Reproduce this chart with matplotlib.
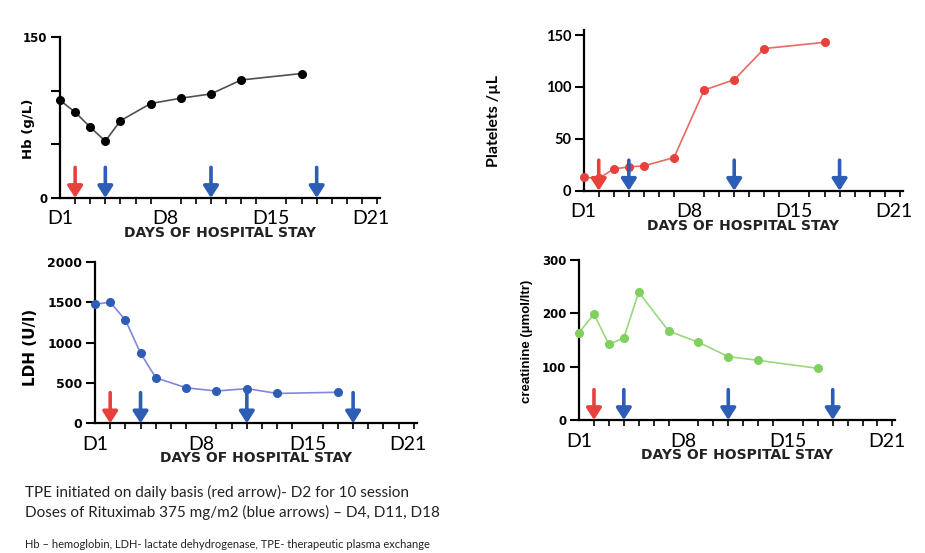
import matplotlib.pyplot as plt
from matplotlib.ticker import FixedLocator, NullFormatter

# ------------------------------------------------------------------
# data (days of hospital stay)
# ------------------------------------------------------------------
days = [1, 2, 3, 4, 5, 7, 9, 11, 13, 17]
hb = [91, 80, 66, 53, 72, 88, 93, 97, 110, 116]
platelets = [13, 12, 21, 23, 24, 32, 97, 107, 137, 143]
ldh = [1475, 1500, 1280, 870, 565, 440, 400, 430, 370, 385]
creatinine = [164, 199, 142, 154, 240, 167, 146, 119, 112, 97]

tpe_day = [2]                 # red arrow
rituximab_days = [4, 11, 18]  # blue arrows

day_labels = ["D1", "D8", "D15", "D21"]
day_label_pos = [1, 8, 15, 21.6]

RED = "#e8413c"
BLUE = "#2d5db5"

fig = plt.figure(figsize=(9.25, 5.53), dpi=100)

panels = [
    # rect, values, ylim, yticks, tick labels, ylabel, line col, marker col,
    # (tick font, size), (ylabel font, size), ylabel coords
    ([0.0649, 0.642, 0.346, 0.291], hb, (0, 150), [0, 50, 100, 150],
     ["0", "", "", "150"], "Hb (g/L)", "#505050", "black",
     ("DejaVu Sans", 8.5), ("DejaVu Sans", 9.5), (-0.10, 0.43)),
    ([0.631, 0.655, 0.345, 0.291], platelets, (0, 155), [0, 50, 100, 150],
     ["0", "50", "100", "150"], "Platelets /µL", "#e86a60", "#e8413c",
     ("Lato", 10.5), ("Lato", 11.5), (-0.282, 0.434)),
    ([0.1027, 0.2345, 0.348, 0.292], ldh, (0, 2000), [0, 500, 1000, 1500, 2000],
     ["0", "500", "1000", "1500", "2000"], "LDH (U/l)", "#8088dc", "#2d5db5",
     ("DejaVu Sans", 9), ("DejaVu Sans", 11), (-0.199, 0.47)),
    ([0.626, 0.2405, 0.342, 0.289], creatinine, (0, 300), [0, 100, 200, 300],
     ["0", "100", "200", "300"], "creatinine (µmol/ltr)", "#9ad880", "#80d060",
     ("DejaVu Sans", 8.5), ("Liberation Sans", 9.5), (-0.166, 0.49)),
]

for rect, vals, ylim, yt, ytl, ylab, lc, mc, tfont, lfont, lpos in panels:
    ax = fig.add_axes(rect)
    ax.plot(days, vals, color=lc, lw=1.2, zorder=3)
    ax.plot(days, vals, 'o', color=mc, ms=5.5, zorder=4, clip_on=False)

    ax.set_xlim(1, 22.2)
    ax.set_ylim(*ylim)
    for s in ["top", "right"]:
        ax.spines[s].set_visible(False)
    for s in ["left", "bottom"]:
        ax.spines[s].set_linewidth(1.6)

    ax.set_yticks(yt)
    ax.set_yticklabels(ytl, fontsize=tfont[1], fontweight="bold", family=tfont[0])
    ax.tick_params(axis="y", length=6.5, width=1.5, pad=2.5)

    ax.set_xticks(day_label_pos)
    ax.set_xticklabels(day_labels, fontsize=14, family="Lato")
    ax.tick_params(axis="x", which="major", length=0, pad=9)
    ax.xaxis.set_minor_locator(FixedLocator(range(1, 23)))
    ax.xaxis.set_minor_formatter(NullFormatter())
    ax.tick_params(axis="x", which="minor", length=4, width=1.2)

    ax.set_xlabel("DAYS OF HOSPITAL STAY", fontsize=10, fontweight="bold",
                  family="DejaVu Sans", labelpad=-1, color="#222222")
    ax.set_ylabel(ylab, fontsize=lfont[1], fontweight="bold", family=lfont[0])
    ax.yaxis.label.set_va("center")
    ax.yaxis.set_label_coords(*lpos)

    # treatment arrows
    for days_list, col in ((tpe_day, RED), (rituximab_days, BLUE)):
        for d in days_list:
            ax.annotate("", xy=(d, 0), xytext=(d, 0.19),
                        xycoords=("data", "axes fraction"),
                        textcoords=("data", "axes fraction"),
                        arrowprops=dict(arrowstyle="-|>,head_length=0.7,head_width=0.45",
                                        color=col, lw=2.6, shrinkA=0, shrinkB=0),
                        zorder=5)

fig.text(25 / 925, 1 - 492 / 553,
         "TPE initiated on daily basis (red arrow)- D2 for 10 session",
         fontsize=11, family="Lato", va="center", ha="left", color="#222222")
fig.text(25 / 925, 1 - 512 / 553,
         "Doses of Rituximab 375 mg/m2 (blue arrows) \u2013 D4, D11, D18",
         fontsize=11, family="Lato", va="center", ha="left", color="#222222")
fig.text(25 / 925, 1 - 545 / 553,
         "Hb \u2013 hemoglobin, LDH- lactate dehydrogenase, TPE- therapeutic plasma exchange",
         fontsize=8, family="Lato", va="center", ha="left", color="#222222")

fig.savefig("out.png", dpi=100)
